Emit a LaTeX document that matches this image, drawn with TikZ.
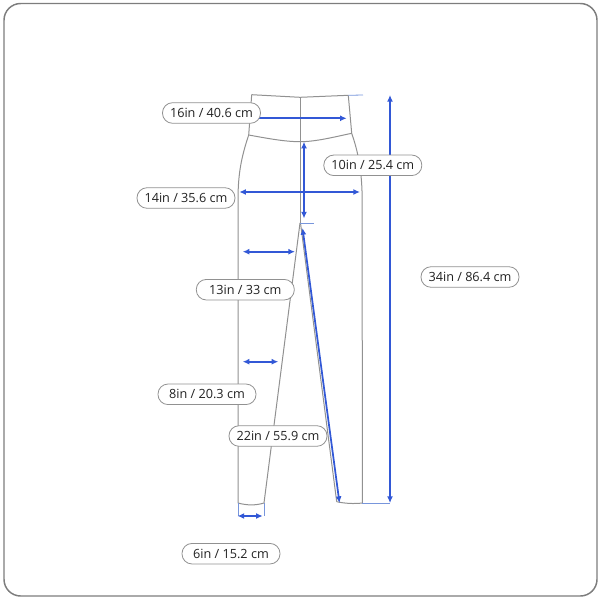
\documentclass[tikz,border=0pt]{standalone}
\usepackage{fontspec}
\setmainfont{Open Sans}
\usetikzlibrary{arrows.meta}
\definecolor{dimblue}{RGB}{50,88,214}
\definecolor{extblue}{RGB}{120,150,220}
\definecolor{outline}{RGB}{145,145,145}
\definecolor{framegray}{RGB}{125,125,125}
\definecolor{labeltext}{RGB}{34,34,34}
\tikzset{
  pants/.style={draw=outline, line width=0.75pt, line join=round},
  dimline/.style={draw=dimblue, line width=1.3pt, {Latex[length=5pt,width=4.5pt]}-{Latex[length=5pt,width=4.5pt]}},
  dimone/.style={draw=dimblue, line width=1.3pt, -{Latex[length=5pt,width=4.5pt]}},
  extline/.style={draw=extblue, line width=0.6pt},
  dimlabel/.style={draw=outline, fill=white, line width=0.6pt, rounded corners=7.5pt,
    minimum width=73.5pt, minimum height=15.4pt, inner sep=0pt, text=labeltext,
    font=\fontsize{9.5pt}{11pt}\selectfont},
}
\begin{document}
\begin{tikzpicture}[x=0.75pt,y=-0.75pt]
\useasboundingbox (0,0) rectangle (600,600);
% frame
\draw[framegray, line width=1.1pt, rounded corners=12.5pt] (4,3.5) rectangle (597,596);

% pants outline
\draw[pants] (251.7,94.7) -- (248.7,135) .. controls (241,158) and (238,175) .. (238,200) -- (238,503);
\draw[pants] (348.3,95.3) -- (351.7,133.3) .. controls (358.5,153) and (362,172) .. (362.2,200) -- (362.3,503);
\draw[pants] (251.7,94.7) -- (300,97.3) -- (348.3,95.3);
\draw[pants] (248.7,135) .. controls (268,138.5) and (285,141.7) .. (300,141.7) .. controls (316,141.7) and (334,137) .. (351.7,133.3);
\draw[pants] (300,97.3) -- (300,223);
\draw[pants] (300,223) -- (264,503);
\draw[pants] (300.5,223) -- (336.7,501.7);
\draw[pants] (238,503) .. controls (247,505.5) and (256,505.5) .. (264,503);
\draw[pants] (336.7,501.7) .. controls (345,503.5) and (354,504) .. (362.3,503);

% coordinates
\coordinate (wTopR) at (348.3,95.3);
\coordinate (wTopExt) at (363,95);
\coordinate (hemR) at (362.3,503);
\coordinate (hemExt) at (390,503);
\coordinate (crotch) at (300,223);
\coordinate (crotchExt) at (314,223);
\coordinate (hemLa) at (238,503);
\coordinate (hemLaExt) at (238,516);
\coordinate (hemLb) at (264,503);
\coordinate (hemLbExt) at (264,516);

\coordinate (w16a) at (252,118.3);
\coordinate (w16b) at (346.7,118.3);
\coordinate (r10a) at (304,141.7);
\coordinate (r10b) at (304,218.5);
\coordinate (h14a) at (239.3,192);
\coordinate (h14b) at (360,192);
\coordinate (t13a) at (242.7,251.7);
\coordinate (t13b) at (295,251.7);
\coordinate (k8a) at (242.7,361.7);
\coordinate (k8b) at (278.3,361.7);
\coordinate (i22a) at (302.5,228);
\coordinate (i22b) at (339.5,503);
\coordinate (a6a) at (237.5,516);
\coordinate (a6b) at (262.7,516);
\coordinate (l34a) at (390,95);
\coordinate (l34b) at (390,503);

% extension lines
\draw[extline] (wTopR) -- (wTopExt);
\draw[extline] (hemR) -- (hemExt);
\draw[extline] (crotch) -- (crotchExt);
\draw[extline] (hemLa) -- (hemLaExt);
\draw[extline] (hemLb) -- (hemLbExt);

% dimension arrows
\draw[dimone] (w16a) -- (w16b);
\draw[dimline] (r10a) -- (r10b);
\draw[dimline] (h14a) -- (h14b);
\draw[dimline] (t13a) -- (t13b);
\draw[dimline] (k8a) -- (k8b);
\draw[dimline] (i22a) -- (i22b);
\draw[dimline] (a6a) -- (a6b);
\draw[dimline] (l34a) -- (l34b);

% labels
\node[dimlabel] (L16) at (211.5,113) {16in / 40.6 cm};
\node[dimlabel] (L10) at (372.8,165.3) {10in / 25.4 cm};
\node[dimlabel] (L14) at (186,198) {14in / 35.6 cm};
\node[dimlabel] (L13) at (245.3,289.7) {13in / 33 cm};
\node[dimlabel] (L8) at (207,394.3) {8in / 20.3 cm};
\node[dimlabel] (L22) at (278,436) {22in / 55.9 cm};
\node[dimlabel] (L6) at (231,553.7) {6in / 15.2 cm};
\node[dimlabel] (L34) at (470,277) {34in / 86.4 cm};
\end{tikzpicture}
\end{document}
